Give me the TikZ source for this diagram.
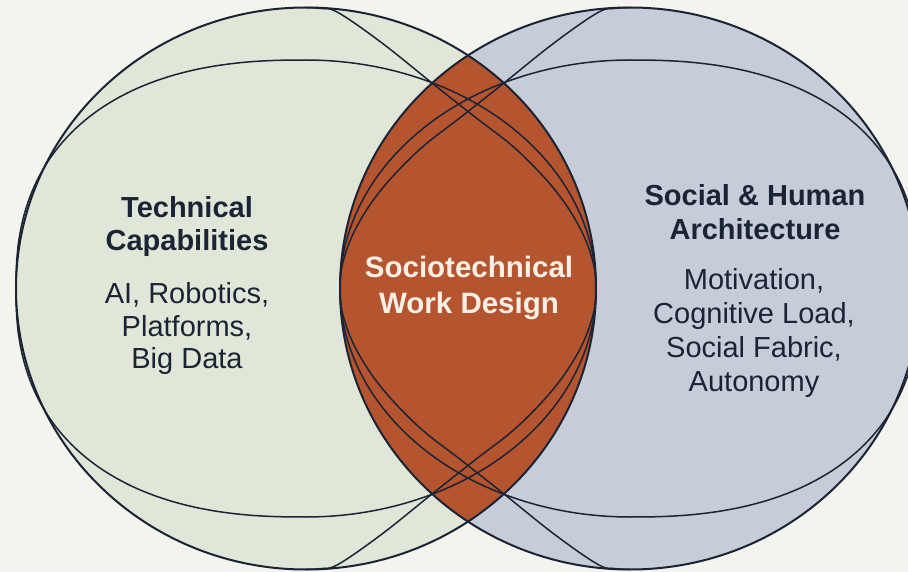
\documentclass[tikz,border=0pt]{standalone}
\usepackage{fontspec}
\setmainfont{Liberation Sans}
\definecolor{paper}{HTML}{F4F4EF}
\definecolor{techfill}{HTML}{E0E7D9}
\definecolor{socfill}{HTML}{C5CDD9}
\definecolor{lensfill}{HTML}{B4552F}
\definecolor{ink}{HTML}{1B2434}
\definecolor{cream}{HTML}{F8EFE6}
\begin{document}
\begin{tikzpicture}[x=1pt,y=-1pt,
  rim/.style={draw=ink,line width=2pt},
  orbit/.style={draw=ink,line width=1.5pt,line join=round},
  title/.style={font=\fontsize{29}{34}\selectfont\bfseries,text=ink,anchor=base,inner sep=0pt},
  body/.style={font=\fontsize{29}{34}\selectfont,text=ink,anchor=base,inner sep=0pt},
  core/.style={font=\fontsize{29.5}{34}\selectfont\bfseries,text=cream,anchor=base,inner sep=0pt}]
% canvas
\fill[paper] (0,0) rectangle (908,572);
\useasboundingbox (0,0) rectangle (908,572);
% the two domains and their overlap
\fill[techfill] (306,288.5) ellipse [x radius=290,y radius=281];
\fill[socfill] (630,288.5) ellipse [x radius=290,y radius=281];
\begin{scope}
  \clip (306,288.5) ellipse [x radius=290,y radius=281];
  \fill[lensfill] (630,288.5) ellipse [x radius=290,y radius=281];
\end{scope}
% inner orbits, technical side: flattened ring
\draw[orbit] plot[domain=-90:90,samples=121,variable=\t]
  ({306-290*pow(abs(cos(\t))+0.00001,0.8333)},{288.5+228.5*sign(sin(\t))*pow(abs(sin(\t))+0.00001,0.8333)});
\draw[orbit] plot[domain=-90:90,samples=121,variable=\t]
  ({306+290*cos(\t)},{288.5+228.5*sin(\t)});
% inner orbits, technical side: pinched arc reaching into the overlap
\draw[orbit] plot[smooth,tension=0.6] coordinates {
  (306,7.5) (320,8.4) (338,12.5) (382,43) (432,83) (475,117) (517,150) (555,190)
  (580,228) (593,262) (596,288.5) (593,315) (580,349) (555,387) (517,427)
  (475,460) (432,494) (382,534) (338,564.5) (320,568.6) (306,569.5)};
% inner orbits, social side: flattened ring
\draw[orbit] plot[domain=-90:90,samples=121,variable=\t]
  ({630+290*pow(abs(cos(\t))+0.00001,0.8333)},{288.5+228.5*sign(sin(\t))*pow(abs(sin(\t))+0.00001,0.8333)});
\draw[orbit] plot[domain=-90:90,samples=121,variable=\t]
  ({630-290*cos(\t)},{288.5+228.5*sin(\t)});
% inner orbits, social side: pinched arc reaching into the overlap
\draw[orbit] plot[smooth,tension=0.6] coordinates {
  (630,7.5) (616,8.4) (598,12.5) (554,43) (504,83) (461,117) (419,150) (381,190)
  (356,228) (343,262) (340,288.5) (343,315) (356,349) (381,387) (419,427)
  (461,460) (504,494) (554,534) (598,564.5) (616,568.6) (630,569.5)};
% outlines
\draw[rim] (306,288.5) ellipse [x radius=290,y radius=281];
\draw[rim] (630,288.5) ellipse [x radius=290,y radius=281];
% labels
\node[title] (tech1) at (187,218) {Technical};
\node[title] (tech2) at (187,251) {Capabilities};
\node[body] (tech3) at (187,303.5) {AI, Robotics,};
\node[body] (tech4) at (187,336) {Platforms,};
\node[body] (tech5) at (187,368.5) {Big Data};
\node[title] (soc1) at (755,206) {Social \& Human};
\node[title] (soc2) at (755,240) {Architecture};
\node[body] (soc3) at (754,290) {Motivation,};
\node[body] (soc4) at (754,323.5) {Cognitive Load,};
\node[body] (soc5) at (754,357.5) {Social Fabric,};
\node[body] (soc6) at (754,391) {Autonomy};
\node[core] (core1) at (469,278) {Sociotechnical};
\node[core] (core2) at (469,313) {Work Design};
\end{tikzpicture}
\end{document}
